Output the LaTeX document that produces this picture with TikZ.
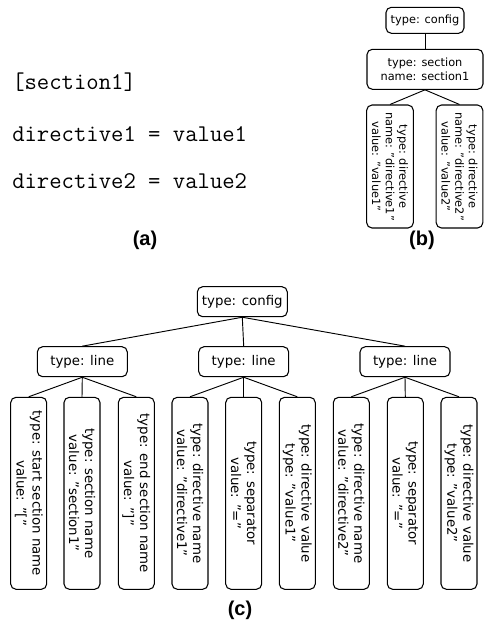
\documentclass[tikz,border=0pt]{standalone}
\usepackage{fontspec}
\setmainfont{DejaVu Sans}
\newfontfamily\labfont{Liberation Sans}
\begin{document}
\begin{tikzpicture}[x=0.75pt,y=-0.75pt,
  box/.style={draw, line width=0.8pt, rounded corners=4pt, inner sep=0pt, align=center},
  cbox/.style={box, font=\fontsize{10}{12}\selectfont, minimum width=67.5pt, minimum height=22.5pt},
  bbox/.style={box, font=\fontsize{8.5}{10.2}\selectfont},
  leafc/.style={box, font=\fontsize{10}{12}\selectfont, rotate=-90, minimum width=144pt, minimum height=27pt},
  leafb/.style={bbox, rotate=-90, minimum width=92.25pt, minimum height=35pt},
  code/.style={font=\ttfamily\fontsize{18}{20}\selectfont, anchor=base west, inner sep=0pt},
  lab/.style={font=\labfont\bfseries\fontsize{15}{18}\selectfont, inner sep=0pt},
  conn/.style={line width=0.7pt}]
\useasboundingbox (0,0) rectangle (483,626);

% ---------- (a) ----------
\node[code] (s1) at (12,89) {[section1]};
\node[code] (d1) at (12,141) {directive1 = value1};
\node[code] (d2) at (12,188) {directive2 = value2};
\node[lab] (la) at (145,240) {(a)};

% ---------- (b) ----------
\node[bbox, minimum width=58.5pt, minimum height=19.5pt] (bcfg) at (425,20.3) {type: config};
\node[bbox, minimum width=87pt, minimum height=30pt] (bsec) at (425,69.3) {type: section\\name: section1};
\node[leafb] (bd1) at (390,166.5) {type: directive\\name: "directive1"\\value: "value1"};
\node[leafb] (bd2) at (459.5,166.5) {type: directive\\name: "directive2"\\value: "value2"};
\draw[conn] (bcfg.south) -- (bsec.north);
\draw[conn] (bsec.south) -- (bd1.west);
\draw[conn] (bsec.south) -- (bd2.west);
\node[lab] (lb) at (422,240) {(b)};

% ---------- (c) ----------
\node[cbox] (ccfg) at (242.3,301.7) {type: config};
\node[cbox] (ln1) at (82.3,361.7) {type: line};
\node[cbox] (ln2) at (243.7,361.7) {type: line};
\node[cbox] (ln3) at (405,361.7) {type: line};
\draw[conn] (ccfg.south) -- (ln1.north);
\draw[conn] (ccfg.south) -- (ln2.north);
\draw[conn] (ccfg.south) -- (ln3.north);

\node[leafc] (c1) at (28.7,493.3) {type: start section name\\value: "["};
\node[leafc] (c2) at (82,493.3) {type: section name\\value: "section1"};
\node[leafc] (c3) at (136.3,493.3) {type: end section name\\value: "]"};
\node[leafc] (c4) at (190,493.3) {type: directive name\\value: "directive1"};
\node[leafc] (c5) at (243.7,493.3) {type: separator\\value: "="};
\node[leafc] (c6) at (297.3,493.3) {type: directive value\\type: "value1"};
\node[leafc] (c7) at (351.3,493.3) {type: directive name\\value: "directive2"};
\node[leafc] (c8) at (405.3,493.3) {type: separator\\value: "="};
\node[leafc] (c9) at (459,493.3) {type: directive value\\type: "value2"};
\foreach \p/\c in {ln1/c1,ln1/c2,ln1/c3,ln2/c4,ln2/c5,ln2/c6,ln3/c7,ln3/c8,ln3/c9}
  \draw[conn] (\p.south) -- (\c.west);
\node[lab] (lc) at (240,610) {(c)};
\end{tikzpicture}
\end{document}
